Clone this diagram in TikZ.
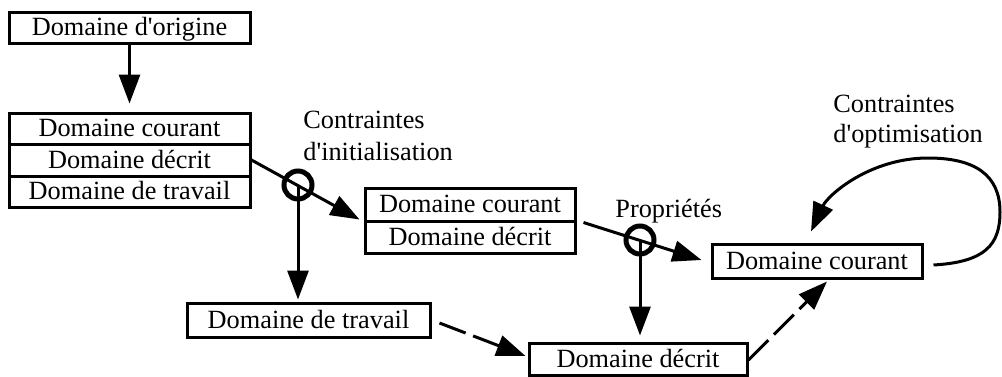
\documentclass[tikz,border=0pt]{standalone}
\usepackage{fontspec}
\setmainfont{Liberation Serif}[Ligatures=TeXOff]
\usetikzlibrary{arrows.meta,calc}
\begin{document}
\begin{tikzpicture}[x=0.5pt,y=-0.5pt,
  box/.style={draw,line width=1.5pt,inner sep=0pt,text height=9.2pt,text depth=1.2pt,font=\fontsize{13.15}{16}\selectfont},
  ring/.style={draw,circle,line width=2.5pt,minimum size=14pt,inner sep=0pt},
  conn/.style={line width=1.5pt,-{Triangle[length=14.5pt,width=10.5pt]}},
  dashconn/.style={conn,dash pattern=on 14pt off 4pt},
  lbl/.style={inner sep=0pt,align=left}]
\useasboundingbox (0,0) rectangle (1002,376);
% boxes
\node[box,minimum width=120.5pt,minimum height=15.5pt] (orig) at (129.5,27.5) {Domaine d'origine};
\node[box,minimum width=120.5pt,minimum height=15.5pt] (s1) at (129.5,128.5) {Domaine courant};
\node[box,minimum width=120.5pt,minimum height=16pt] (s2) at (129.5,160) {Domaine décrit};
\node[box,minimum width=120.5pt,minimum height=15.5pt] (s3) at (129.5,191.5) {Domaine de travail};
\node[box,minimum width=105pt,minimum height=16.5pt] (b2a) at (470,204.5) {Domaine courant};
\node[box,minimum width=105pt,minimum height=16pt] (b2b) at (470,237) {Domaine décrit};
\node[box,minimum width=105pt,minimum height=17pt] (b4) at (817,261) {Domaine courant};
\node[box,minimum width=121.5pt,minimum height=17pt] (trav) at (308.5,320) {Domaine de travail};
\node[box,minimum width=109pt,minimum height=16pt] (d3) at (638,359) {Domaine décrit};
% rings
\node[ring] (ci1) at (298,185) {};
\node[ring] (ci2) at (640,240) {};
% labels
\node[lbl,anchor=base west,font=\fontsize{13.15}{16}\selectfont] (lab1) at (303,160) {Contraintes\\d'initialisation};
\node[lbl,anchor=base west,font=\fontsize{13.15}{16}\selectfont] (lab2) at (615,217) {Propriétés};
\node[lbl,anchor=base west,font=\fontsize{13.15}{15}\selectfont] (lab3) at (833,142.5) {Contraintes\\d'optimisation};
% connectors
\draw[conn] (orig.south) -- ([shift={(0,-8)}]s1.north);
\draw[conn] (s2.east) -- ([shift={(-4,-3)}]b2a.south west);
\draw[conn] (ci1.center) -- ($(ci1.center |- trav.north)+(0,-2)$);
\draw[conn] ([shift={(7,0)}]b2a.south east) -- ([shift={(-9,-1)}]b4.west);
\draw[conn] (ci2.center) -- ($(ci2.center |- d3.north)+(0,-6)$);
\draw[dashconn] ([shift={(8,3)}]trav.east) -- ([shift={(-2,-3)}]d3.west);
\draw[dashconn] ([shift={(0,1)}]d3.east) -- ([shift={(10,2)}]b4.south);
\draw[conn] ([shift={(10,4)}]b4.east) .. controls (985,262) and (1000,245) .. (1000,212)
  .. controls (1000,175) and (975,158) .. (928,158)
  .. controls (870,158) and (828,195) .. ([shift={(-6,-11)}]b4.north);
\end{tikzpicture}
\end{document}
